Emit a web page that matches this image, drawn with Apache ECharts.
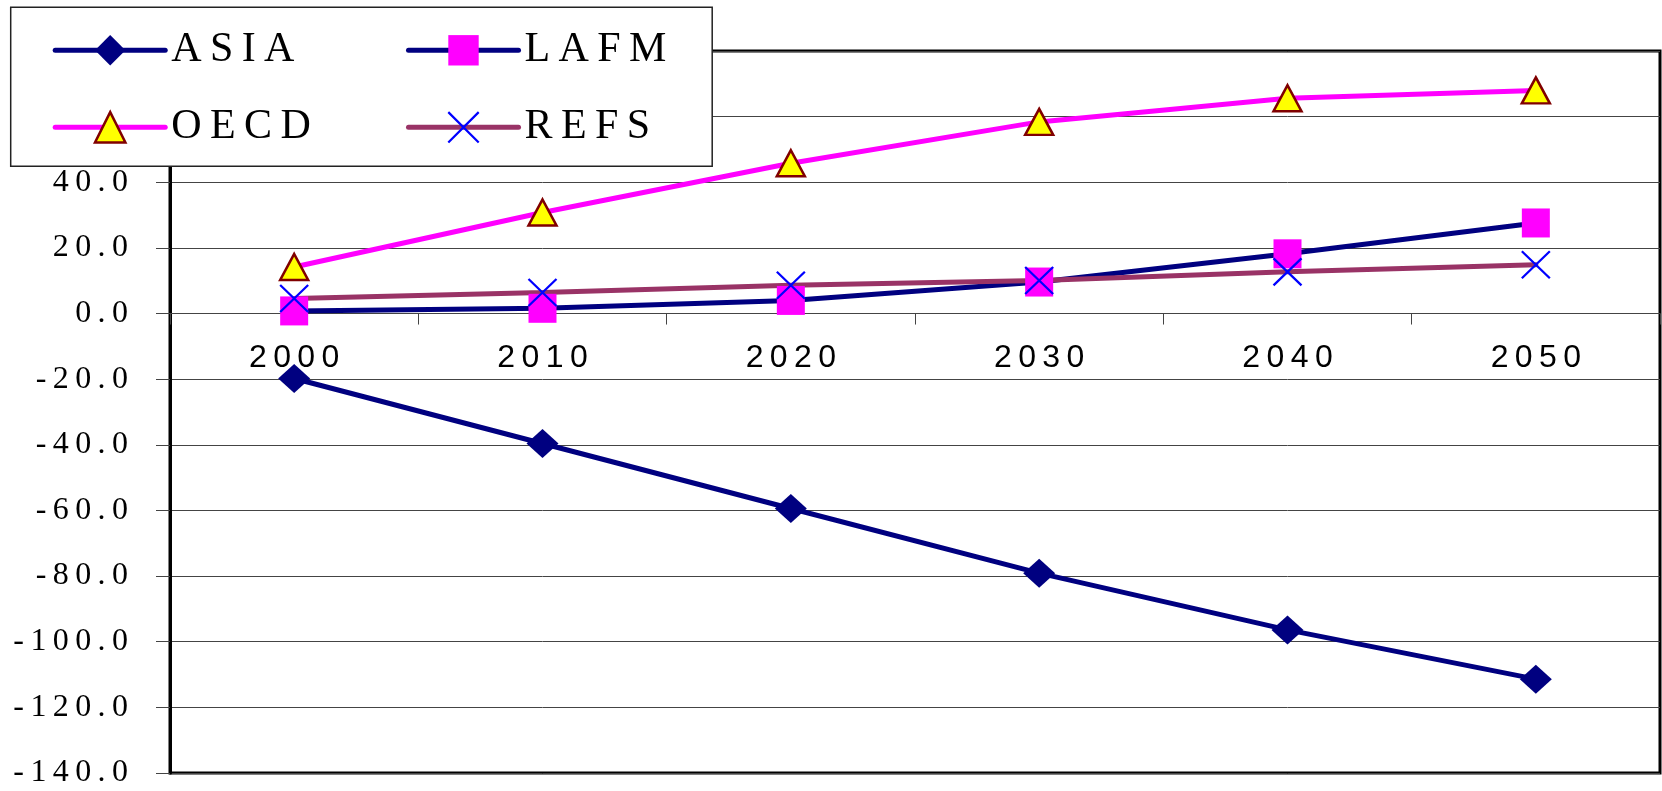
<!DOCTYPE html>
<html>
<head>
<meta charset="utf-8">
<title>ASIA / LAFM / OECD / REFS, 2000–2050</title>
<script src="https://cdn.jsdelivr.net/npm/echarts@6/dist/echarts.min.js"></script>
<style>
  html, body { margin: 0; padding: 0; background: #fff; }
  #chart { width: 1662px; height: 791px; }
</style>
</head>
<body>
<div id="chart"></div>
<script>
// Years on the category axis
const years = ['2000', '2010', '2020', '2030', '2040', '2050'];

// Regional series values
const asia = [-19.8, -39.6, -59.4, -79.1, -96.4, -111.4];
const lafm = [0.8, 1.6, 4.0, 9.6, 18.2, 27.6];
const oecd = [14.2, 30.8, 45.8, 58.4, 65.6, 68.0];
const refs = [4.6, 6.4, 8.6, 10.1, 12.7, 14.9];

// Value axis range and step
const yMin = -140;
const yMax = 80;
const yStep = 20;

// Plot rectangle
const plot = { left: 170, top: 51, width: 1490, height: 722 };

// The category axis sits on the zero line of the value axis
const zeroOffset = -plot.height * (0 - yMin) / (yMax - yMin);

// Spread the characters of a label apart with thin spaces
const spaced = s => String(s).split('').join('\u2009');

// Shared look of the two legend columns
const legendText = {
  fontFamily: '"Liberation Serif", "Times New Roman", serif',
  fontSize: 42,
  color: '#000000',
  lineHeight: 38,
  padding: [0, 0, 0, 1]
};
const legendCommon = {
  orient: 'vertical',
  itemWidth: 110,
  itemHeight: 38,
  itemGap: 35,
  lineStyle: { width: 'inherit' },
  itemStyle: { borderWidth: 'inherit' },
  formatter: name => spaced(name)
};

const chart = echarts.init(document.getElementById('chart'), null, { renderer: 'canvas' });

chart.setOption({
  animation: false,
  backgroundColor: '#ffffff',
  grid: {
    left: plot.left, top: plot.top, width: plot.width, height: plot.height,
    containLabel: false,
    outerBoundsMode: 'none',
    show: true,
    borderColor: '#000000',
    borderWidth: 3,
    backgroundColor: 'transparent'
  },
  legend: [
    Object.assign({}, legendCommon, {
      left: 10.7, top: 7.3,
      padding: [22, 401, 18, 42],
      backgroundColor: '#ffffff',
      borderColor: '#222222',
      borderWidth: 1.5,
      z: 10,
      data: ['ASIA', 'OECD'],
      textStyle: Object.assign({}, legendText, { width: 140 })
    }),
    Object.assign({}, legendCommon, {
      left: 406, top: 29.3,
      padding: 0,
      z: 11,
      data: ['LAFM', 'REFS'],
      textStyle: Object.assign({}, legendText)
    })
  ],
  xAxis: {
    type: 'category',
    data: years,
    boundaryGap: true,
    position: 'bottom',
    offset: zeroOffset,
    axisLine: { onZero: false, lineStyle: { color: '#444444', width: 1 } },
    axisTick: { show: true, inside: false, length: 11, interval: 0, lineStyle: { color: '#444444', width: 1 } },
    axisLabel: {
      margin: 29,
      interval: 0,
      hideOverlap: false,
      fontFamily: '"Liberation Sans", Arial, sans-serif',
      fontSize: 32,
      color: '#000000',
      formatter: v => spaced(v)
    },
    splitLine: { show: false }
  },
  yAxis: {
    type: 'value',
    min: yMin,
    max: yMax,
    interval: yStep,
    axisLine: { show: true, onZero: false, lineStyle: { color: '#000000', width: 3 } },
    axisTick: { show: true, inside: false, length: 14, lineStyle: { color: '#444444', width: 1 } },
    axisLabel: {
      margin: 42,
      fontFamily: '"Liberation Serif", "Times New Roman", serif',
      fontSize: 32,
      color: '#000000',
      formatter: v => spaced(v.toFixed(1))
    },
    splitLine: { show: true, lineStyle: { color: '#444444', width: 1 } }
  },
  series: [
    {
      name: 'ASIA',
      type: 'line',
      data: asia,
      symbol: 'diamond',
      symbolSize: [32, 29],
      lineStyle: { color: '#000080', width: 5, cap: 'round' },
      itemStyle: { color: '#000080', borderWidth: 0 },
      emphasis: { disabled: true }
    },
    {
      name: 'LAFM',
      type: 'line',
      data: lafm,
      symbol: 'rect',
      symbolSize: [28, 29],
      lineStyle: { color: '#000080', width: 5, cap: 'round' },
      itemStyle: { color: '#FF00FF', borderWidth: 0 },
      emphasis: { disabled: true }
    },
    {
      name: 'OECD',
      type: 'line',
      data: oecd,
      symbol: 'triangle',
      symbolSize: [28, 26],
      lineStyle: { color: '#FF00FF', width: 5, cap: 'round' },
      itemStyle: { color: '#FFFF00', borderColor: '#800000', borderWidth: 2.5 },
      emphasis: { disabled: true }
    },
    {
      name: 'REFS',
      type: 'line',
      data: refs,
      symbol: 'path://M0,0L10,10M10,0L0,10',
      symbolSize: [28, 27],
      lineStyle: { color: '#993366', width: 5, cap: 'round' },
      itemStyle: { color: '#0000FF', borderColor: '#0000FF', borderWidth: 2.2 },
      emphasis: { disabled: true }
    }
  ]
});
</script>
</body>
</html>
